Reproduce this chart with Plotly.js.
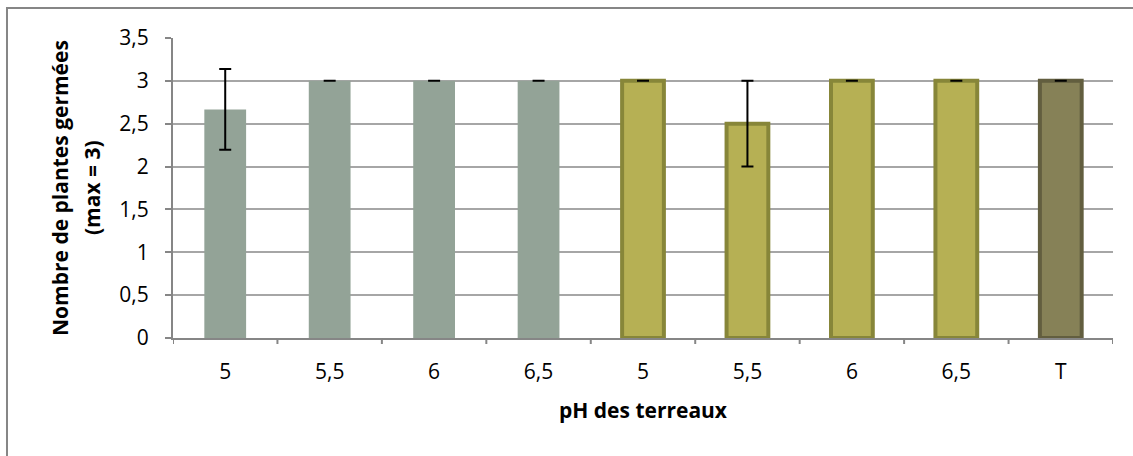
<!DOCTYPE html>
<html>
<head>
<meta charset="utf-8">
<script src="https://cdn.plot.ly/plotly-3.0.1.min.js"></script>
<style>html,body{margin:0;padding:0;background:#fff;}#chart{width:1133px;height:456px;}</style>
</head>
<body>
<div id="chart"></div>
<script>
const categories = ["5", "5,5", "6", "6,5", "5", "5,5", "6", "6,5", "T"];
const values = [2.667, 3, 3, 3, 3, 2.5, 3, 3, 3];
const errors = [0.47, 0, 0, 0, 0, 0.5, 0, 0, 0];
const groups = ["A", "A", "A", "A", "B", "B", "B", "B", "T"];
const yTickVals = [0, 0.5, 1, 1.5, 2, 2.5, 3, 3.5];
const yTickText = ["0", "0,5", "1", "1,5", "2", "2,5", "3", "3,5"];
const xTitle = "pH des terreaux";
const yTitleLines = ["Nombre de plantes germées", "(max = 3)"];

const fillColors = {A: "#93a397", B: "#b6b054", T: "#868157"};
const lineColors = {A: "#93a397", B: "#878639", T: "#625e3f"};
const lineWidths = {A: 0, B: 4, T: 4};

const idx = categories.map((c, i) => i);
const FONT = "'Open Sans', sans-serif";
const FS = 21;

const trace = {
  type: "bar",
  x: idx,
  y: values,
  width: 0.4,
  marker: {
    color: groups.map(g => fillColors[g]),
    line: {color: groups.map(g => lineColors[g]), width: groups.map(g => lineWidths[g])}
  },
  error_y: {type: "data", array: errors, visible: true, color: "#000", thickness: 2, width: 6},
  hoverinfo: "none"
};

const layout = {
  width: 1133, height: 456,
  margin: {l: 173, r: 20, t: 38, b: 118},
  paper_bgcolor: "#fff", plot_bgcolor: "#fff",
  showlegend: false,
  font: {family: FONT, size: FS, color: "#000"},
  xaxis: {
    range: [-0.5, 8.5],
    tickvals: idx, ticktext: categories,
    showgrid: false, zeroline: false,
    showline: true, linecolor: "#868686", linewidth: 2,
    ticks: "", tickfont: {family: FONT, size: FS},
    ticklabelstandoff: 14,
    title: {text: "<b>" + xTitle + "</b>", font: {family: FONT, size: FS}, standoff: 19}
  },
  yaxis: {
    range: [0, 3.5],
    tickvals: yTickVals, ticktext: yTickText,
    showgrid: true, gridcolor: "#a6a6a6", gridwidth: 2,
    zeroline: false,
    showline: true, linecolor: "#868686", linewidth: 2,
    ticks: "outside", ticklen: 6, tickwidth: 2, tickcolor: "#868686",
    tickfont: {family: FONT, size: FS},
    ticklabelstandoff: 12
  },
  annotations: yTitleLines.map((t, k) => ({
    text: "<b>" + t + "</b>", xref: "paper", yref: "paper",
    x: ((k === 0 ? 60 : 92) - 173) / 940, y: 0.5, textangle: -90,
    showarrow: false, xanchor: "center", yanchor: "middle",
    font: {family: FONT, size: FS, color: "#000"}
  })),
  shapes: [
    {type: "rect", xref: "paper", yref: "paper", x0: -0.1766, x1: 1.03, y0: -0.41, y1: 1.1,
     line: {color: "#868686", width: 2}, fillcolor: "rgba(0,0,0,0)", layer: "below"}
  ].concat(Array.from({length: 10}, (_, k) => ({
    type: "line", xref: "x", yref: "paper", x0: k - 0.5, x1: k - 0.5, y0: 0, y1: -0.02,
    line: {color: "#868686", width: 2}
  })))
};

Plotly.newPlot("chart", [trace], layout, {displayModeBar: false, staticPlot: true});
</script>
</body>
</html>
